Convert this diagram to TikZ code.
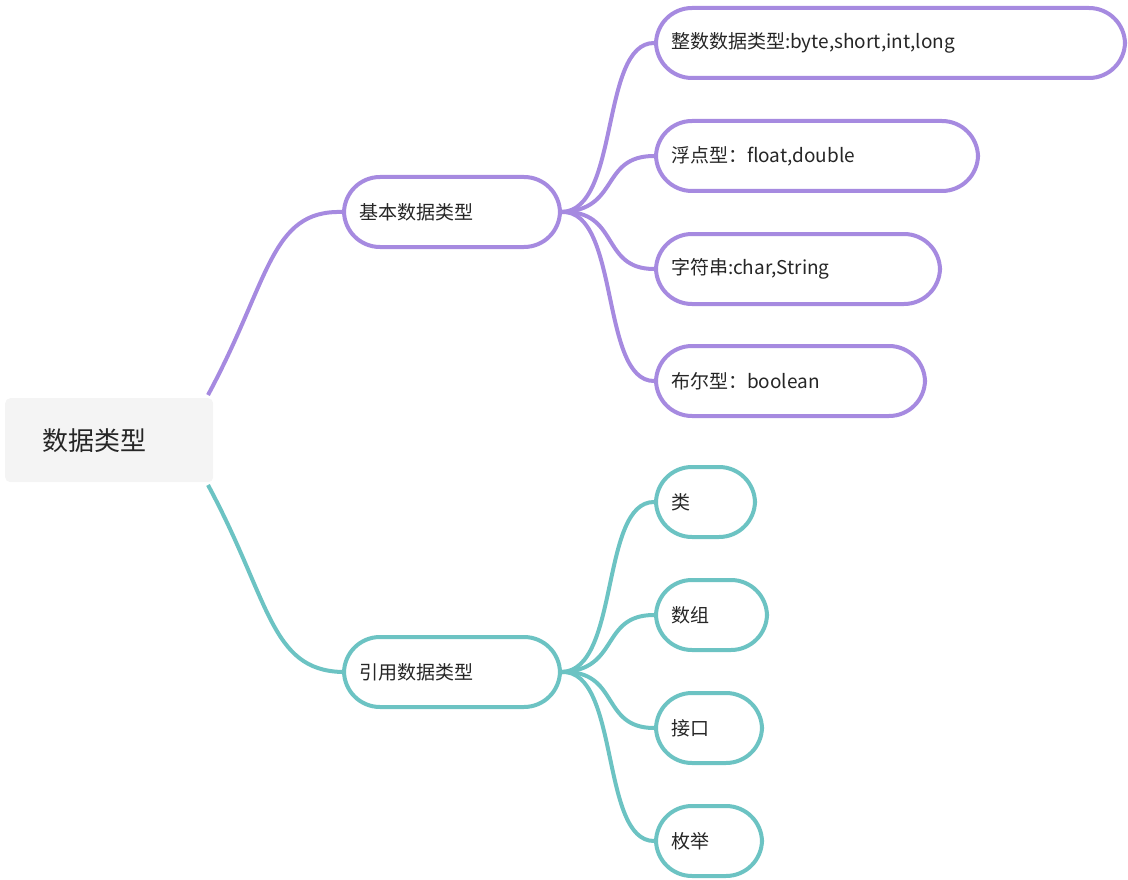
\documentclass[tikz,border=0pt]{standalone}
\usepackage{fontspec}
\setmainfont{Noto Sans CJK SC}
\definecolor{pur}{HTML}{A68AE0}
\definecolor{tea}{HTML}{6CC3C3}
\definecolor{rootbg}{HTML}{F4F4F4}
\begin{document}
\begin{tikzpicture}[x=1pt,y=-1pt,
  box/.style={draw=#1,line width=4pt,rounded corners=36pt,fill=white,font=\fontsize{19}{22}\selectfont,text=black!85,inner sep=0pt,anchor=north west},
  lk/.style={draw=#1,line width=4pt}]
\useasboundingbox (0,0) rectangle (1128,880);
\node[fill=rootbg,rounded corners=5pt,minimum width=208pt,minimum height=84pt,anchor=north west,inner sep=0pt,font=\fontsize{26}{30}\selectfont,text=black!85] (root) at (5,398) {\hspace{-30pt}数据类型};
\newcommand{\bx}[6]{\node[box=#1,minimum width=#4pt,minimum height=#5pt,align=left,text width=#4pt-30pt] (#2) at #3 {#6};}
\bx{pur}{b}{(342,175)}{216}{70}{基本数据类型}
\bx{tea}{r}{(342,635)}{216}{70}{引用数据类型}
\bx{pur}{p1}{(654,6)}{469}{70}{整数数据类型:byte,short,int,long}
\bx{pur}{p2}{(654,119)}{322}{70}{浮点型：float,double}
\bx{pur}{p3}{(654,232)}{284}{70}{字符串:char,String}
\bx{pur}{p4}{(654,344)}{269}{70}{布尔型：boolean}
\bx{tea}{t1}{(654,465)}{99}{70}{类}
\bx{tea}{t2}{(654,578)}{111}{70}{数组}
\bx{tea}{t3}{(654,691)}{106}{70}{接口}
\bx{tea}{t4}{(654,804)}{106}{70}{枚举}
\coordinate (ra) at (208,395);
\coordinate (rb) at (208,485);
\draw[lk=pur] (ra) .. controls (270,280) and (270,210) .. (b.west);
\draw[lk=tea] (rb) .. controls (270,600) and (270,670) .. (r.west);
\foreach \n in {p1,p2,p3,p4}{
  \draw[lk=pur] (b.east) .. controls (620,210) and (600,0|-\n.west) .. (\n.west);}
\foreach \n in {t1,t2,t3,t4}{
  \draw[lk=tea] (r.east) .. controls (620,670) and (600,0|-\n.west) .. (\n.west);}
\end{tikzpicture}
\end{document}
